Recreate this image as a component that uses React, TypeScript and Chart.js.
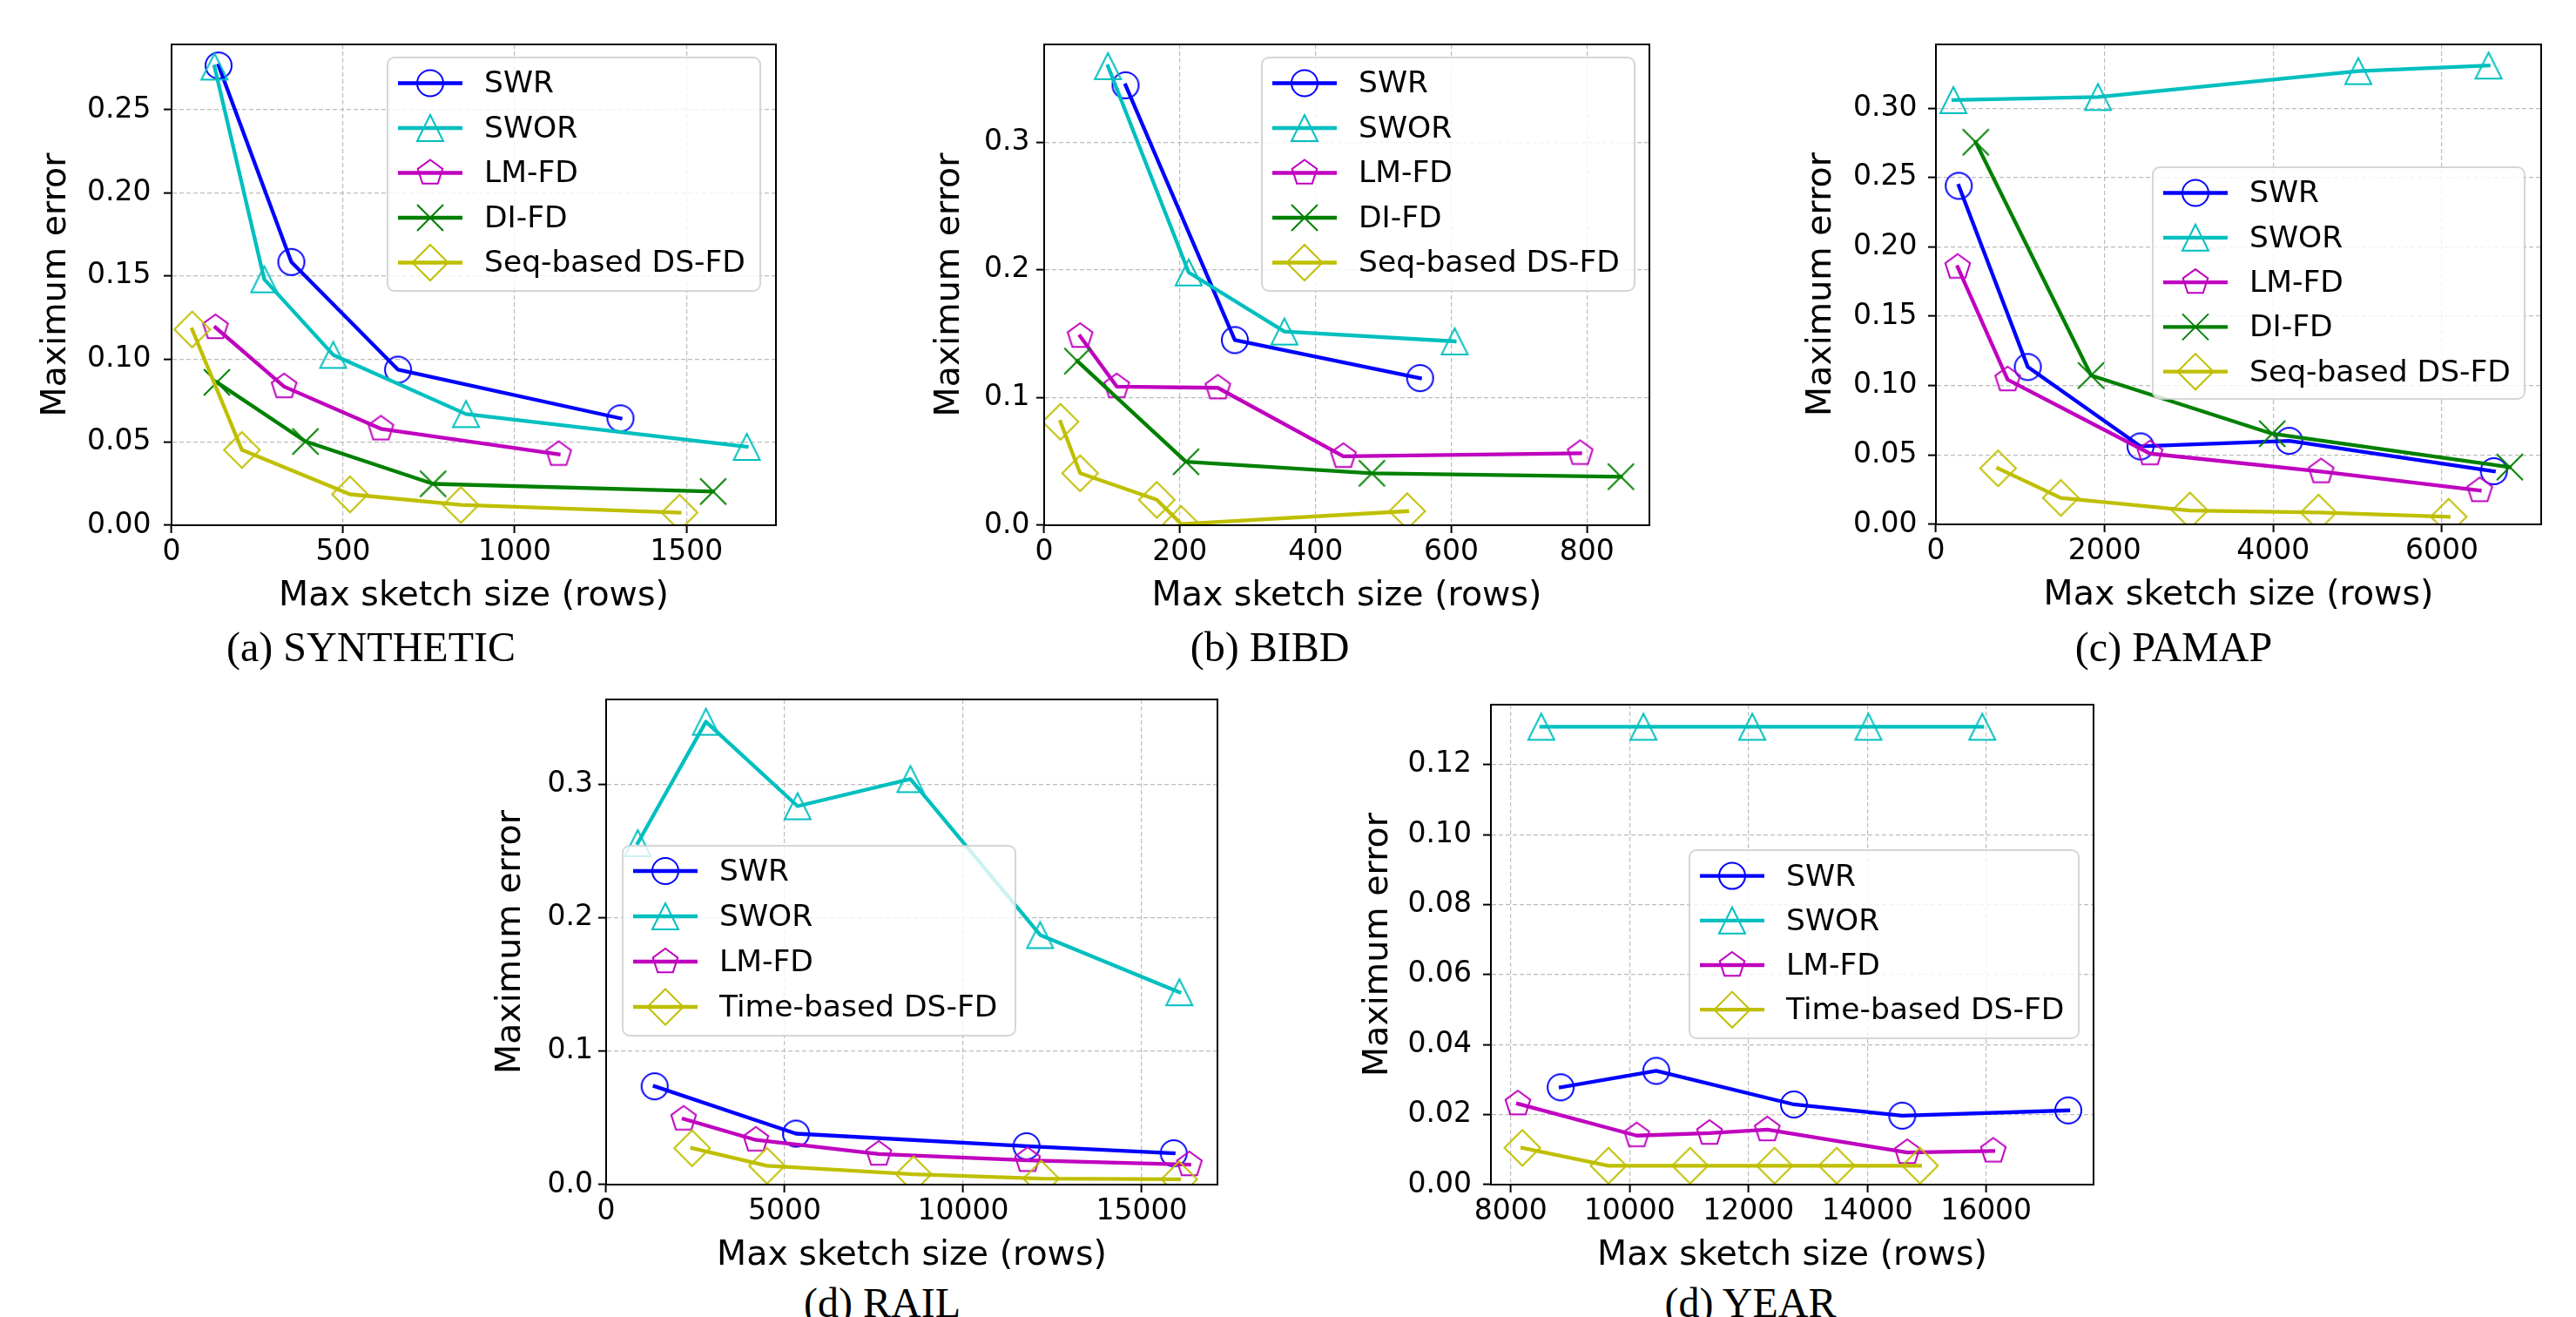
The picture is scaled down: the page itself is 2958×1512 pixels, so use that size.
import React, { useEffect, useRef } from "react";
import { Chart, registerables } from "chart.js";

Chart.register(...registerables);

// ---------------- data ----------------
// (a) SYNTHETIC
const synSwrX = [137, 349, 660, 1308];
const synSwrY = [0.2766, 0.1584, 0.0936, 0.0643];
const synSworX = [125, 270, 471, 858, 1676];
const synSworY = [0.276, 0.148, 0.1025, 0.0669, 0.0472];
const synLmX = [128, 328, 610, 1128];
const synLmY = [0.119, 0.0834, 0.058, 0.0427];
const synDiX = [132, 390, 762, 1578];
const synDiY = [0.086, 0.0504, 0.0249, 0.0203];
const synDsX = [60, 205, 520, 843, 1480];
const synDsY = [0.1178, 0.0453, 0.0186, 0.0122, 0.0076];
const synXTicks = [0, 500, 1000, 1500];
const synYTicks = [0, 0.05, 0.1, 0.15, 0.2, 0.25];

// (b) BIBD
const bibdSwrX = [120, 281, 554];
const bibdSwrY = [0.3445, 0.145, 0.1152];
const bibdSworX = [94, 213, 354, 605];
const bibdSworY = [0.3595, 0.198, 0.1517, 0.144];
const bibdLmX = [53, 107, 256, 441, 790];
const bibdLmY = [0.148, 0.1086, 0.1076, 0.054, 0.0563];
const bibdDiX = [49, 209, 483, 850];
const bibdDiY = [0.1285, 0.0497, 0.0407, 0.038];
const bibdDsX = [24, 53, 166, 202, 535];
const bibdDsY = [0.081, 0.0407, 0.0199, 0.001, 0.011];
const bibdXTicks = [0, 200, 400, 600, 800];
const bibdYTicks = [0, 0.1, 0.2, 0.3];

// (c) PAMAP
const pamSwrX = [271, 1090, 2426, 4190, 6616];
const pamSwrY = [0.244, 0.1134, 0.0562, 0.0602, 0.0383];
const pamSworX = [207, 1922, 5009, 6553];
const pamSworY = [0.3058, 0.308, 0.3267, 0.3307];
const pamLmX = [258, 851, 2539, 4568, 6449];
const pamLmY = [0.1854, 0.1043, 0.051, 0.038, 0.0244];
const pamDiX = [472, 1840, 3988, 6805];
const pamDiY = [0.2754, 0.1073, 0.0653, 0.0413];
const pamDsX = [737, 1481, 3012, 4537, 6080];
const pamDsY = [0.0404, 0.0191, 0.01, 0.0085, 0.0055];
const pamXTicks = [0, 2000, 4000, 6000];
const pamYTicks = [0, 0.05, 0.1, 0.15, 0.2, 0.25, 0.3];

// (d) RAIL
const railSwrX = [1359, 5318, 11773, 15895];
const railSwrY = [0.0737, 0.0382, 0.0288, 0.0235];
const railSworX = [886, 2795, 5362, 8523, 12157, 16056];
const railSworY = [0.256, 0.347, 0.2837, 0.304, 0.1871, 0.1442];
const railLmX = [2171, 4195, 7637, 11802, 16334];
const railLmY = [0.0492, 0.0335, 0.0229, 0.0182, 0.015];
const railDsX = [2408, 4505, 8612, 12186, 16049];
const railDsY = [0.0273, 0.0141, 0.0078, 0.0045, 0.004];
const railXTicks = [0, 5000, 10000, 15000];
const railYTicks = [0, 0.1, 0.2, 0.3];

// (d) YEAR
const yearSwrX = [8841, 10449, 12766, 14589, 17383];
const yearSwrY = [0.0278, 0.0325, 0.0229, 0.0197, 0.0212];
const yearSworX = [8514, 10234, 12065, 14019, 15935];
const yearSworY = [0.1308, 0.1308, 0.1308, 0.1308, 0.1308];
const yearLmX = [8121, 10121, 11346, 12318, 14673, 16121];
const yearLmY = [0.0231, 0.014, 0.0147, 0.0157, 0.0092, 0.0096];
const yearDsX = [8196, 9645, 11019, 12439, 13486, 14888];
const yearDsY = [0.0105, 0.0054, 0.0054, 0.0054, 0.0054, 0.0054];
const yearXTicks = [8000, 10000, 12000, 14000, 16000];
const yearYTicks = [0, 0.02, 0.04, 0.06, 0.08, 0.1, 0.12];

const X_TITLE = "Max sketch size (rows)";
const Y_TITLE = "Maximum error";

// ---------------- styles ----------------
type Shape = "circle" | "triangle" | "pentagon" | "x" | "diamond";
const STYLE: Record<string, { color: string; shape: Shape }> = {
  SWR: { color: "#0000ff", shape: "circle" },
  SWOR: { color: "#00bfbf", shape: "triangle" },
  "LM-FD": { color: "#bf00bf", shape: "pentagon" },
  "DI-FD": { color: "#008000", shape: "x" },
  "Seq-based DS-FD": { color: "#bfbf00", shape: "diamond" },
  "Time-based DS-FD": { color: "#bfbf00", shape: "diamond" },
};

const FONT = '"DejaVu Sans", "Noto Sans", sans-serif';
const TICK_SIZE = 33;
const TITLE_SIZE = 39.5;
const LEGEND_SIZE = 34.5;
const LINE_W = 4.3;
const MARKER_S = 30;
const MARKER_LW = 2;
const TOP_PAD = 40;
const RIGHT_PAD = 20;
const X_AXIS_H = 105;

type Series = { name: string; xs: number[]; ys: number[] };
type Panel = {
  caption: string;
  capX: number;
  capTop: number;
  frame: { L: number; T: number; R: number; B: number };
  xMin: number;
  xMax: number;
  yMin: number;
  yMax: number;
  xTicks: number[];
  yTicks: number[];
  yDec: number;
  yTitleDist: number;
  yTickPad: number;
  legend: { x: number; y: number; w: number; h: number; row0: number; dy: number };
  series: Series[];
};

const PANELS: Panel[] = [
  {
    caption: "(a) SYNTHETIC", capX: 426, capTop: 719,
    frame: { L: 197, T: 51, R: 891, B: 603 },
    xMin: 0, xMax: 1761, yMin: 0, yMax: 0.2893,
    xTicks: synXTicks, yTicks: synYTicks, yDec: 2, yTitleDist: 132.5, yTickPad: 14.6,
    legend: { x: 445, y: 66, w: 428, h: 268, row0: 95.5, dy: 51.5 },
    series: [
      { name: "SWR", xs: synSwrX, ys: synSwrY },
      { name: "SWOR", xs: synSworX, ys: synSworY },
      { name: "LM-FD", xs: synLmX, ys: synLmY },
      { name: "DI-FD", xs: synDiX, ys: synDiY },
      { name: "Seq-based DS-FD", xs: synDsX, ys: synDsY },
    ],
  },
  {
    caption: "(b) BIBD", capX: 1458, capTop: 719,
    frame: { L: 1199, T: 51, R: 1894, B: 603 },
    xMin: 0, xMax: 892, yMin: 0, yMax: 0.3765,
    xTicks: bibdXTicks, yTicks: bibdYTicks, yDec: 1, yTitleDist: 108.6, yTickPad: 7.5,
    legend: { x: 1449, y: 66, w: 428, h: 268, row0: 95.5, dy: 51.5 },
    series: [
      { name: "SWR", xs: bibdSwrX, ys: bibdSwrY },
      { name: "SWOR", xs: bibdSworX, ys: bibdSworY },
      { name: "LM-FD", xs: bibdLmX, ys: bibdLmY },
      { name: "DI-FD", xs: bibdDiX, ys: bibdDiY },
      { name: "Seq-based DS-FD", xs: bibdDsX, ys: bibdDsY },
    ],
  },
  {
    caption: "(c) PAMAP", capX: 2496, capTop: 719,
    frame: { L: 2223, T: 51, R: 2918, B: 602 },
    xMin: 0, xMax: 7177, yMin: 0, yMax: 0.3459,
    xTicks: pamXTicks, yTicks: pamYTicks, yDec: 2, yTitleDist: 131, yTickPad: 12.4,
    legend: { x: 2472, y: 192, w: 427, h: 266, row0: 221.5, dy: 51.3 },
    series: [
      { name: "SWR", xs: pamSwrX, ys: pamSwrY },
      { name: "SWOR", xs: pamSworX, ys: pamSworY },
      { name: "LM-FD", xs: pamLmX, ys: pamLmY },
      { name: "DI-FD", xs: pamDiX, ys: pamDiY },
      { name: "Seq-based DS-FD", xs: pamDsX, ys: pamDsY },
    ],
  },
  {
    caption: "(d) RAIL", capX: 1013, capTop: 1472,
    frame: { L: 696, T: 803, R: 1398, B: 1360 },
    xMin: 0, xMax: 17122, yMin: 0, yMax: 0.3637,
    xTicks: railXTicks, yTicks: railYTicks, yDec: 1, yTitleDist: 109.6, yTickPad: 6,
    legend: { x: 715, y: 971, w: 451, h: 218, row0: 1000, dy: 52 },
    series: [
      { name: "SWR", xs: railSwrX, ys: railSwrY },
      { name: "SWOR", xs: railSworX, ys: railSworY },
      { name: "LM-FD", xs: railLmX, ys: railLmY },
      { name: "Time-based DS-FD", xs: railDsX, ys: railDsY },
    ],
  },
  {
    caption: "(d) YEAR", capX: 2010, capTop: 1472,
    frame: { L: 1712, T: 809, R: 2404, B: 1360 },
    xMin: 7667, xMax: 17808, yMin: 0, yMax: 0.1371,
    xTicks: yearXTicks, yTicks: yearYTicks, yDec: 2, yTitleDist: 129, yTickPad: 13,
    legend: { x: 1940, y: 976, w: 447, h: 216, row0: 1005.6, dy: 51.2 },
    series: [
      { name: "SWR", xs: yearSwrX, ys: yearSwrY },
      { name: "SWOR", xs: yearSworX, ys: yearSworY },
      { name: "LM-FD", xs: yearLmX, ys: yearLmY },
      { name: "Time-based DS-FD", xs: yearDsX, ys: yearDsY },
    ],
  },
];

// ---------------- helpers ----------------
function pathMarker(ctx: CanvasRenderingContext2D, shape: Shape, cx: number, cy: number, s: number) {
  const h = s / 2;
  ctx.beginPath();
  if (shape === "circle") {
    ctx.arc(cx, cy, h, 0, Math.PI * 2);
  } else if (shape === "triangle") {
    ctx.moveTo(cx, cy - h);
    ctx.lineTo(cx + h, cy + h);
    ctx.lineTo(cx - h, cy + h);
    ctx.closePath();
  } else if (shape === "pentagon") {
    for (let k = 0; k < 5; k++) {
      const a = -Math.PI / 2 + (k * 2 * Math.PI) / 5;
      const px = cx + h * Math.cos(a);
      const py = cy + h * Math.sin(a);
      if (k === 0) ctx.moveTo(px, py);
      else ctx.lineTo(px, py);
    }
    ctx.closePath();
  } else if (shape === "x") {
    ctx.moveTo(cx - h, cy - h);
    ctx.lineTo(cx + h, cy + h);
    ctx.moveTo(cx - h, cy + h);
    ctx.lineTo(cx + h, cy - h);
  } else {
    const d = h * 1.37;
    ctx.moveTo(cx, cy - d);
    ctx.lineTo(cx + d, cy);
    ctx.lineTo(cx, cy + d);
    ctx.lineTo(cx - d, cy);
    ctx.closePath();
  }
}

function makeMarkerCanvas(shape: Shape, color: string): HTMLCanvasElement {
  const size = 52;
  const c = document.createElement("canvas");
  c.width = size;
  c.height = size;
  const ctx = c.getContext("2d")!;
  ctx.strokeStyle = color;
  ctx.lineWidth = MARKER_LW;
  pathMarker(ctx, shape, size / 2, size / 2, MARKER_S);
  ctx.stroke();
  return c;
}

function geom(p: Panel) {
  const { L, T, R, B } = p.frame;
  const left = Math.round(L - p.yTitleDist - (TITLE_SIZE * 1.2) / 2);
  const yAxisW = L - left;
  const top = T - TOP_PAD;
  const width = yAxisW + (R - L) + RIGHT_PAD;
  const height = TOP_PAD + (B - T) + X_AXIS_H;
  return { left, top, width, height, yAxisW };
}

const framePlugin = {
  id: "frameBox",
  afterDatasetsDraw(chart: any) {
    const { ctx, chartArea: a } = chart;
    ctx.save();
    ctx.strokeStyle = "#000";
    ctx.lineWidth = 2;
    ctx.strokeRect(a.left, a.top, a.right - a.left, a.bottom - a.top);
    ctx.restore();
  },
};

function legendPlugin(p: Panel, offX: number, offY: number) {
  return {
    id: "mplLegend",
    afterDatasetsDraw(chart: any) {
      const ctx: CanvasRenderingContext2D = chart.ctx;
      const lg = p.legend;
      const x = lg.x - offX;
      const y = lg.y - offY;
      ctx.save();
      ctx.beginPath();
      const r = 8;
      ctx.moveTo(x + r, y);
      ctx.lineTo(x + lg.w - r, y);
      ctx.arcTo(x + lg.w, y, x + lg.w, y + r, r);
      ctx.lineTo(x + lg.w, y + lg.h - r);
      ctx.arcTo(x + lg.w, y + lg.h, x + lg.w - r, y + lg.h, r);
      ctx.lineTo(x + r, y + lg.h);
      ctx.arcTo(x, y + lg.h, x, y + lg.h - r, r);
      ctx.lineTo(x, y + r);
      ctx.arcTo(x, y, x + r, y, r);
      ctx.closePath();
      ctx.fillStyle = "rgba(255,255,255,0.8)";
      ctx.fill();
      ctx.strokeStyle = "rgba(204,204,204,0.8)";
      ctx.lineWidth = 2;
      ctx.stroke();
      p.series.forEach((s, i) => {
        const st = STYLE[s.name];
        const ry = lg.row0 - offY + i * lg.dy;
        ctx.strokeStyle = st.color;
        ctx.lineWidth = LINE_W;
        ctx.lineCap = "butt";
        ctx.beginPath();
        ctx.moveTo(x + 12, ry);
        ctx.lineTo(x + 86, ry);
        ctx.stroke();
        ctx.lineWidth = MARKER_LW;
        pathMarker(ctx, st.shape, x + 49, ry, MARKER_S);
        ctx.stroke();
        ctx.fillStyle = "#000";
        ctx.font = `${LEGEND_SIZE}px ${FONT}`;
        ctx.textBaseline = "middle";
        ctx.textAlign = "left";
        ctx.fillText(s.name, x + 111, ry + 2);
      });
      ctx.restore();
    },
  };
}

function PanelChart({ p }: { p: Panel }) {
  const ref = useRef<HTMLCanvasElement | null>(null);
  const g = geom(p);
  useEffect(() => {
    if (!ref.current) return;
    const n = p.series.length;
    const gridCommon = {
      color: "#bdbdbd",
      lineWidth: 1.2,
      drawTicks: true,
      tickLength: 9,
      tickColor: "#000",
      tickWidth: 2,
      tickBorderDash: [],
    };
    const border = { display: true, color: "#000", width: 2, dash: [5, 3] };
    const chart = new Chart(ref.current, {
      type: "line",
      data: {
        datasets: p.series.map((s, i) => {
          const st = STYLE[s.name];
          return {
            label: s.name,
            data: s.xs.map((x, j) => ({ x, y: s.ys[j] })),
            borderColor: st.color,
            backgroundColor: st.color,
            borderWidth: LINE_W,
            borderJoinStyle: "round",
            borderCapStyle: "square",
            tension: 0,
            fill: false,
            pointStyle: makeMarkerCanvas(st.shape, st.color),
            pointRadius: 15,
            pointHoverRadius: 15,
            order: n - i,
          } as any;
        }),
      },
      options: {
        animation: false,
        responsive: false,
        devicePixelRatio: 1,
        events: [],
        layout: { padding: { top: TOP_PAD, right: RIGHT_PAD, left: 0, bottom: 0 } },
        plugins: {
          legend: { display: false },
          tooltip: { enabled: false },
        },
        scales: {
          x: {
            type: "linear",
            min: p.xMin,
            max: p.xMax,
            bounds: "data",
            afterBuildTicks: (s: any) => {
              s.ticks = p.xTicks.map((v) => ({ value: v }));
            },
            afterFit: (s: any) => {
              s.height = X_AXIS_H;
              s.paddingLeft = 0;
              s.paddingRight = 0;
              s.paddingTop = 0;
              s.paddingBottom = 0;
            },
            ticks: {
              autoSkip: false,
              maxRotation: 0,
              minRotation: 0,
              padding: 3,
              color: "#000",
              font: { family: FONT, size: TICK_SIZE },
              callback: (v: any) => String(v),
            },
            grid: gridCommon,
            border,
            title: {
              display: true,
              text: X_TITLE,
              color: "#000",
              font: { family: FONT, size: TITLE_SIZE },
              padding: { top: 0, bottom: 0 },
            },
          },
          y: {
            type: "linear",
            min: p.yMin,
            max: p.yMax,
            bounds: "data",
            afterBuildTicks: (s: any) => {
              s.ticks = p.yTicks.map((v) => ({ value: v }));
            },
            afterFit: (s: any) => {
              s.width = g.yAxisW;
              s.paddingLeft = 0;
              s.paddingRight = 0;
              s.paddingTop = 0;
              s.paddingBottom = 0;
            },
            ticks: {
              autoSkip: false,
              padding: p.yTickPad,
              color: "#000",
              font: { family: FONT, size: TICK_SIZE },
              callback: (v: any) => Number(v).toFixed(p.yDec),
            },
            grid: gridCommon,
            border,
            title: {
              display: true,
              text: Y_TITLE,
              color: "#000",
              font: { family: FONT, size: TITLE_SIZE },
              padding: { top: 0, bottom: 0 },
            },
          },
        },
      } as any,
      plugins: [framePlugin, legendPlugin(p, g.left, g.top)],
    });
    return () => chart.destroy();
  }, []);
  return (
    <canvas
      ref={ref}
      width={g.width}
      height={g.height}
      style={{ position: "absolute", left: g.left, top: g.top, width: g.width, height: g.height }}
    />
  );
}

export default function App() {
  useEffect(() => {
    document.documentElement.style.overflow = "hidden";
    document.body.style.margin = "0";
  }, []);
  return (
    <div
      style={{
        position: "absolute",
        left: 0,
        top: 0,
        width: 2958,
        height: 1512,
        background: "#fff",
        overflow: "hidden",
      }}
    >
      {PANELS.map((p, i) => (
        <PanelChart key={i} p={p} />
      ))}
      {PANELS.map((p, i) => (
        <div
          key={"c" + i}
          style={{
            position: "absolute",
            left: p.capX - 300,
            width: 600,
            top: p.capTop,
            textAlign: "center",
            fontFamily: '"Liberation Serif", "Times New Roman", serif',
            fontSize: 48,
            lineHeight: "48px",
            color: "#000",
            whiteSpace: "nowrap",
          }}
        >
          {p.caption}
        </div>
      ))}
    </div>
  );
}
